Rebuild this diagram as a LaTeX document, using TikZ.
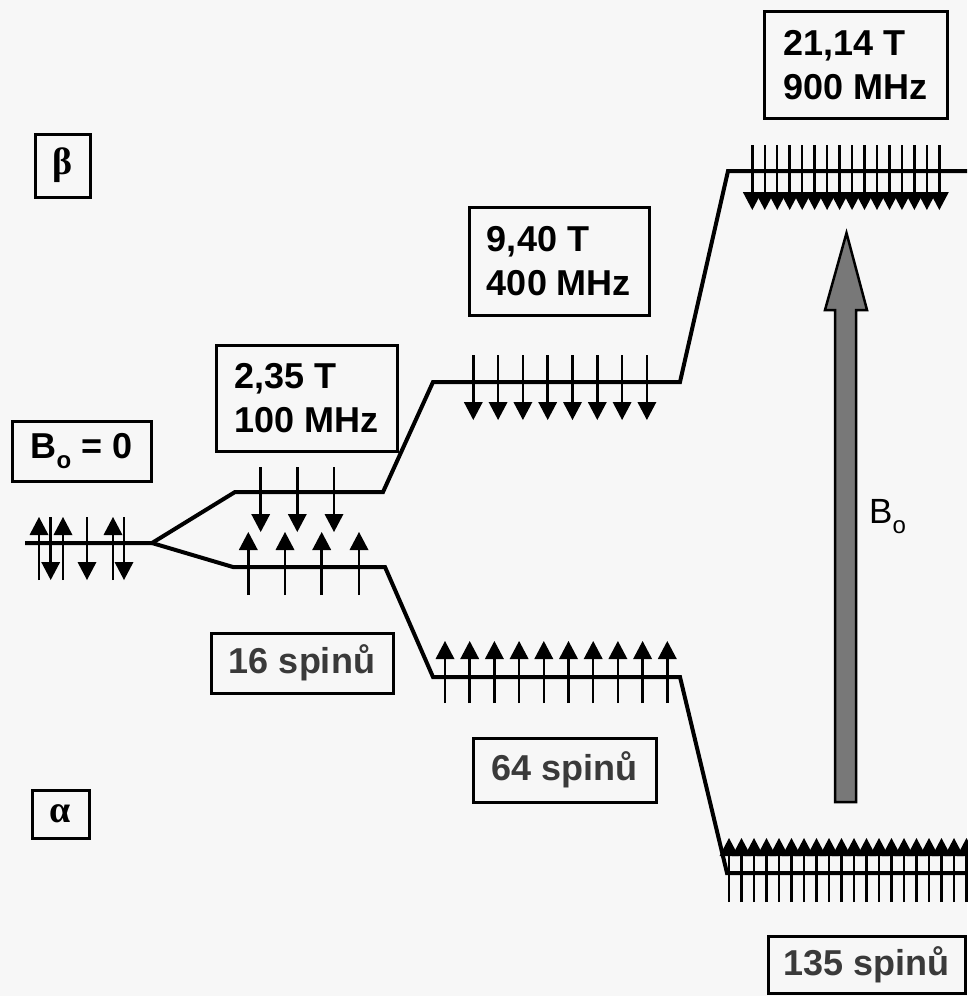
\documentclass[tikz,border=0pt]{standalone}
\usepackage{fontspec}
\setmainfont{Liberation Sans}
\newfontfamily\grk{Liberation Serif}
\definecolor{bg}{HTML}{F7F7F7}
\definecolor{bigarrow}{HTML}{787878}
\definecolor{spintext}{HTML}{3A3A3A}
\newcommand{\subo}{\raisebox{-10pt}{\fontsize{24}{24}\selectfont o}}
% spin arrow: x, tail y, tip y (y measured downward)
\newcommand{\SpinArrow}[3]{%
  \draw[spinshaft] (#1,#2) -- (#1,{#3+0.8*(#2-#3)/abs(#2-#3)*18});
  \fill (#1-9.5,{#3+(#2-#3)/abs(#2-#3)*18}) -- (#1,#3)
        -- (#1+9.5,{#3+(#2-#3)/abs(#2-#3)*18}) -- cycle;}
\begin{document}
\begin{tikzpicture}[x=1pt,y=-1pt,
  level/.style={line width=4pt, line join=miter},
  spinshaft/.style={line width=2.5pt},
  lbox/.style={draw, line width=3pt, inner sep=0pt, align=left,
    font=\fontsize{36}{44}\selectfont\bfseries},
  sbox/.style={draw, line width=3pt, inner sep=0pt, text=spintext,
    font=\fontsize{36}{44}\selectfont\bfseries},
  gbox/.style={draw, line width=3pt, inner sep=0pt,
    font=\grk\bfseries\fontsize{38}{38}\selectfont}]
\useasboundingbox (0,0) rectangle (967,996);
\fill[bg] (0,0) rectangle (967,996);

% energy levels
\coordinate (split) at (152,543);
\draw[level] (25,543) -- (split) -- (235,492) -- (383,492) -- (433,382)
  -- (680,382) -- (728,171) -- (967,171);
\draw[level] (split) -- (233,567) -- (385,567) -- (433,677) -- (680,677)
  -- (727,873) -- (967,873);

% B0 = 0 spins
\foreach \x in {39,63,113} {\SpinArrow{\x}{580}{517}}
\foreach \x in {50.7,87,124} {\SpinArrow{\x}{517}{580}}

% 2.35 T
\foreach \x in {260.7,297.3,334} {\SpinArrow{\x}{467}{532}}
\foreach \x in {248.3,285,321.7,359} {\SpinArrow{\x}{595}{532}}

% 9.40 T
\foreach \k in {0,...,7} {\SpinArrow{473.3+24.8*\k}{355}{420}}
\foreach \k in {0,...,9} {\SpinArrow{445+24.7*\k}{703}{641}}

% 21.14 T
\foreach \k in {0,...,15} {\SpinArrow{752.3+12.47*\k}{145}{210}}
\foreach \k in {0,...,19} {\SpinArrow{729+12.5*\k}{902}{838}}

% big B0 arrow
\filldraw[fill=bigarrow, draw=black, line width=2.5pt, line join=miter]
  (835,802) -- (835,310) -- (825,310) -- (846.5,233) -- (867,310)
  -- (856,310) -- (856,802) -- cycle;
\node[anchor=base west, inner sep=0pt, font=\fontsize{35}{35}\selectfont] (bfield) at (869,523) {B\subo};

% labels
\node[gbox, minimum width=55pt, minimum height=63pt] (beta) at (62.5,165.5) {β};
\node[gbox, minimum width=57pt, minimum height=48pt] (alpha) at (60.5,814) {α};
\node[lbox, minimum width=139pt, minimum height=60pt] (bzero) at (81.5,451) {B\subo\ = 0};
\node[lbox, minimum width=181pt, minimum height=106pt] (b235) at (306.5,398) {2,35 T\\100 MHz};
\node[lbox, minimum width=180pt, minimum height=108pt] (b940) at (559,261) {9,40 T\\400 MHz};
\node[lbox, minimum width=183pt, minimum height=107pt] (b2114) at (855.5,65) {21,14 T\\900 MHz};
\node[sbox, minimum width=182pt, minimum height=60pt] (s16) at (302,663) {16 spinů};
\node[sbox, minimum width=183pt, minimum height=64pt] (s64) at (564.7,770) {64 spinů};
\node[sbox, minimum width=197pt, minimum height=57pt] (s135) at (866.5,964.5) {135 spinů};
\end{tikzpicture}
\end{document}
